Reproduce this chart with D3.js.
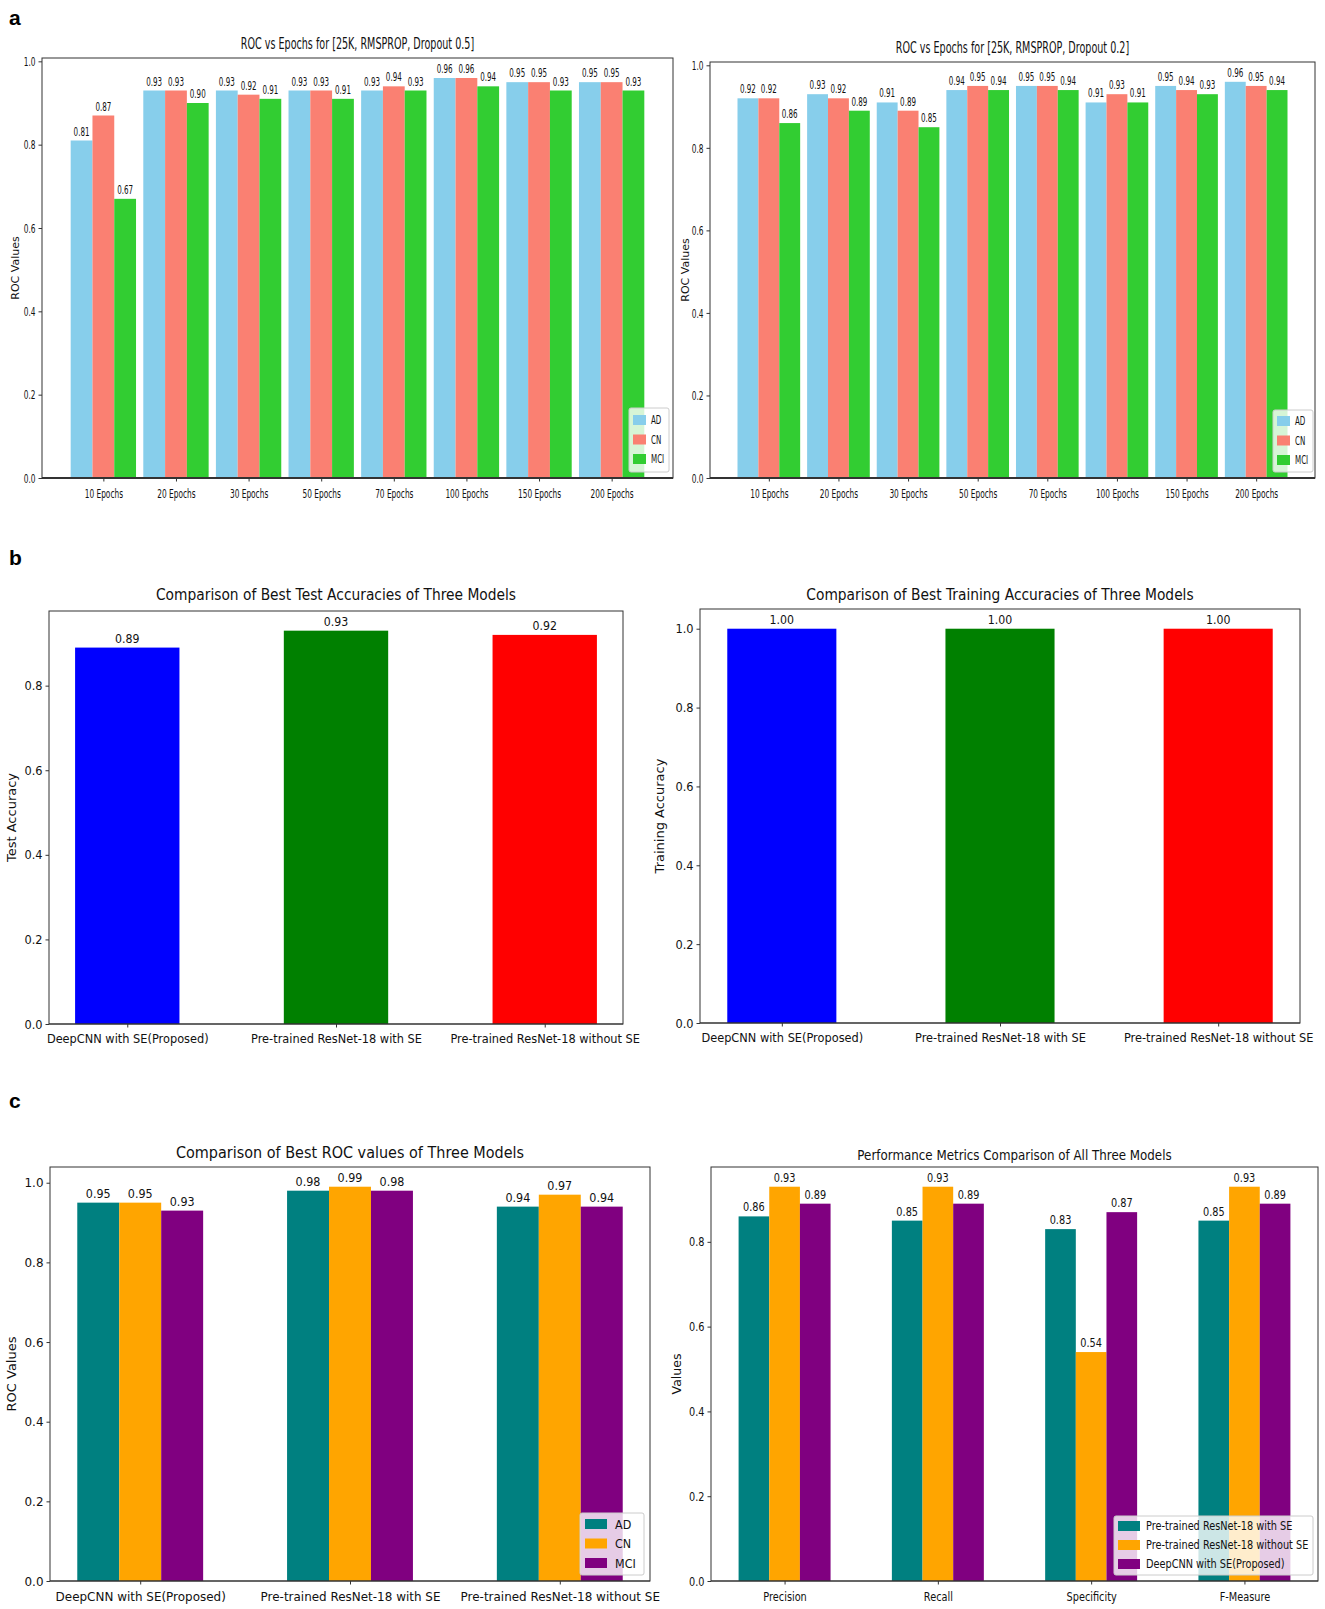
<!DOCTYPE html>
<html>
<head>
<meta charset="utf-8">
<script src="https://cdn.jsdelivr.net/npm/d3@7"></script>
<style>
  html, body { margin: 0; padding: 0; background: #fff; }
  svg { display: block; }
</style>
</head>
<body>
<svg id="fig" width="1325" height="1609"></svg>
<script>
// ---------------- DATA ----------------
const epochs = ["10 Epochs", "20 Epochs", "30 Epochs", "50 Epochs", "70 Epochs", "100 Epochs", "150 Epochs", "200 Epochs"];
const classNames = ["AD", "CN", "MCI"];

const d05_AD  = [0.81, 0.93, 0.93, 0.93, 0.93, 0.96, 0.95, 0.95];
const d05_CN  = [0.87, 0.93, 0.92, 0.93, 0.94, 0.96, 0.95, 0.95];
const d05_MCI = [0.67, 0.90, 0.91, 0.91, 0.93, 0.94, 0.93, 0.93];

const d02_AD  = [0.92, 0.93, 0.91, 0.94, 0.95, 0.91, 0.95, 0.96];
const d02_CN  = [0.92, 0.92, 0.89, 0.95, 0.95, 0.93, 0.94, 0.95];
const d02_MCI = [0.86, 0.89, 0.85, 0.94, 0.94, 0.91, 0.93, 0.94];

const models = ["DeepCNN with SE(Proposed)", "Pre-trained ResNet-18 with SE", "Pre-trained ResNet-18 without SE"];
const testAcc  = [0.89, 0.93, 0.92];
const trainAcc = [1.00, 1.00, 1.00];

const roc_AD  = [0.95, 0.98, 0.94];
const roc_CN  = [0.95, 0.99, 0.97];
const roc_MCI = [0.93, 0.98, 0.94];

const metrics = ["Precision", "Recall", "Specificity", "F-Measure"];
const metricModels = ["Pre-trained ResNet-18 with SE", "Pre-trained ResNet-18 without SE", "DeepCNN with SE(Proposed)"];
const m_resSE   = [0.86, 0.85, 0.83, 0.85];
const m_resNoSE = [0.93, 0.93, 0.54, 0.93];
const m_deepSE  = [0.89, 0.89, 0.87, 0.89];

const yTicks = [0.0, 0.2, 0.4, 0.6, 0.8, 1.0];

// ---------------- DRAW ----------------
const FONT = "DejaVu Sans, Liberation Sans, sans-serif";
const svg = d3.select("#fig");

function txt(g, x, y, s, o) {
  const t = g.append("text")
    .attr("transform", `translate(${x},${y})` + (o.rot ? ` rotate(${o.rot})` : "") + ` scale(${o.sx || 1},1)`)
    .attr("font-family", o.family || FONT)
    .attr("font-size", o.size)
    .attr("font-weight", o.weight || "normal")
    .attr("text-anchor", o.anchor || "middle")
    .attr("fill", o.fill || "#111")
    .text(s);
  if (o.dy) t.attr("dy", o.dy);
  return t;
}

function chart(o) {
  const g = svg.append("g");
  const nS = o.series.length, nC = o.cats.length;
  const offs = o.series.map((_, j) => (j - (nS - 1) / 2) * o.barW);
  const lo = offs[0] - o.barW / 2, hi = (nC - 1) + offs[nS - 1] + o.barW / 2;
  const m = (hi - lo) * 0.05;
  const x = d3.scaleLinear().domain([lo - m, hi + m]).range([o.box.l, o.box.r]);
  const ymax = d3.max(o.series.flat()) * 1.05;
  const y = d3.scaleLinear().domain([0, ymax]).range([o.box.b, o.box.t]);
  const colorOf = (j, i) => o.perCat ? o.colors[i] : o.colors[j];

  // bars
  o.series.forEach((vals, j) => {
    g.append("g").selectAll("rect").data(vals).join("rect")
      .attr("x", (d, i) => x(i + offs[j] - o.barW / 2))
      .attr("width", (d, i) => x(i + offs[j] + o.barW / 2) - x(i + offs[j] - o.barW / 2))
      .attr("y", d => y(d))
      .attr("height", d => y(0) - y(d))
      .attr("fill", (d, i) => colorOf(j, i));
  });
  // value labels
  o.series.forEach((vals, j) => {
    vals.forEach((d, i) => {
      txt(g, x(i + offs[j]), y(d) - o.valGap, d3.format(".2f")(d), {size: o.valSize, sx: o.valSx});
    });
  });

  // frame
  g.append("rect")
    .attr("x", o.box.l).attr("y", o.box.t)
    .attr("width", o.box.r - o.box.l).attr("height", o.box.b - o.box.t)
    .attr("fill", "none").attr("stroke", "#333").attr("stroke-width", 1);
  g.append("line").attr("x1", o.box.l).attr("x2", o.box.r).attr("y1", o.box.b).attr("y2", o.box.b)
    .attr("stroke", "#333").attr("stroke-width", o.bottomW || 1.2);

  // y axis
  const ya = g.append("g").attr("transform", `translate(${o.box.l},0)`)
    .call(d3.axisLeft(y).tickValues(yTicks.filter(v => v <= ymax + 1e-9)).tickFormat(d3.format(".1f")).tickSize(3.5).tickPadding(3).tickSizeOuter(0));
  ya.select(".domain").remove();
  ya.selectAll(".tick line").attr("stroke", "#333");
  ya.selectAll(".tick text")
    .attr("x", null).attr("dy", "0.32em")
    .attr("transform", `translate(-6.5,0) scale(${o.tickSx},1)`)
    .attr("font-family", FONT).attr("font-size", o.tickSize).attr("fill", "#111");

  // x axis
  const xa = g.append("g").attr("transform", `translate(0,${o.box.b})`)
    .call(d3.axisBottom(x).tickValues(d3.range(nC)).tickFormat(i => o.cats[i]).tickSize(3.5).tickPadding(3).tickSizeOuter(0));
  xa.select(".domain").remove();
  xa.selectAll(".tick line").attr("stroke", "#333");
  xa.selectAll(".tick text")
    .attr("y", null).attr("dy", null)
    .attr("transform", `translate(0,${o.xLabDy}) scale(${o.tickSx},1)`)
    .attr("font-family", FONT).attr("font-size", o.tickSize).attr("fill", "#111");

  // title
  txt(g, (o.box.l + o.box.r) / 2, o.titleY, o.title, {size: o.titleSize, sx: o.titleSx});
  // y label
  txt(g, o.ylabelX, (o.box.t + o.box.b) / 2, o.ylabel, {size: o.ylabelSize, sx: o.ylabelSx, rot: -90});

  // legend
  if (o.legend) {
    const L = o.legend;
    g.append("rect").attr("x", L.x).attr("y", L.y).attr("width", L.w).attr("height", L.h)
      .attr("rx", 2).attr("fill", "#fff").attr("fill-opacity", 0.8).attr("stroke", "#ccc");
    L.names.forEach((nm, j) => {
      const cy = L.y + L.first + j * L.row;
      g.append("rect").attr("x", L.x + L.px).attr("y", cy - L.ph / 2).attr("width", L.pw).attr("height", L.ph)
        .attr("fill", o.colors[j]);
      txt(g, L.x + L.px + L.pw + L.gap, cy, nm, {size: L.size, sx: L.sx, anchor: "start", dy: "0.35em"});
    });
  }
  return g;
}

// panel labels
const PL = {size: 21, weight: "bold", anchor: "start", family: "Liberation Sans, Arial, sans-serif", fill: "#000"};
txt(svg, 9, 25, "a", PL);
txt(svg, 9, 565, "b", PL);
txt(svg, 9, 1108, "c", PL);

const colA = ["#87CEEB", "#FA8072", "#32CD32"];
const colB = ["#0000FF", "#008000", "#FF0000"];
const colC = ["#008080", "#FFA500", "#800080"];

// ---- a left
chart({
  box: {l: 42, t: 58, r: 673, b: 478}, cats: epochs,
  series: [d05_AD, d05_CN, d05_MCI], colors: colA, barW: 0.3,
  tickSize: 13, tickSx: 0.57, valSize: 13, valSx: 0.55, valGap: 5, xLabDy: 20, bottomW: 1.8,
  title: "ROC vs Epochs for [25K, RMSPROP, Dropout 0.5]", titleY: 49, titleSize: 15, titleSx: 0.64,
  ylabel: "ROC Values", ylabelX: 19, ylabelSize: 11, ylabelSx: 1.0,
  legend: {x: 629, y: 408, w: 40, h: 64, px: 4, pw: 13, ph: 10, gap: 5, first: 12, row: 19.5, size: 12.5, sx: 0.57, names: classNames}
});
// ---- a right
chart({
  box: {l: 710, t: 62, r: 1315, b: 478}, cats: epochs,
  series: [d02_AD, d02_CN, d02_MCI], colors: colA, barW: 0.3,
  tickSize: 13, tickSx: 0.57, valSize: 13, valSx: 0.55, valGap: 5, xLabDy: 20, bottomW: 1.8,
  title: "ROC vs Epochs for [25K, RMSPROP, Dropout 0.2]", titleY: 53, titleSize: 15, titleSx: 0.64,
  ylabel: "ROC Values", ylabelX: 689, ylabelSize: 11, ylabelSx: 1.0,
  legend: {x: 1273, y: 410, w: 40, h: 62, px: 4, pw: 13, ph: 10, gap: 5, first: 11, row: 19.5, size: 12.5, sx: 0.57, names: classNames}
});

// ---- b left
chart({
  box: {l: 49, t: 611, r: 623, b: 1024}, cats: models,
  series: [testAcc], colors: colB, perCat: true, barW: 0.5,
  tickSize: 12.5, tickSx: 0.91, valSize: 12.5, valSx: 0.88, valGap: 5, xLabDy: 19,
  title: "Comparison of Best Test Accuracies of Three Models", titleY: 600, titleSize: 15, titleSx: 0.92,
  ylabel: "Test Accuracy", ylabelX: 16, ylabelSize: 13, ylabelSx: 1.0
});
// ---- b right
chart({
  box: {l: 700, t: 609, r: 1300, b: 1023}, cats: models,
  series: [trainAcc], colors: colB, perCat: true, barW: 0.5,
  tickSize: 12.5, tickSx: 0.91, valSize: 12.5, valSx: 0.88, valGap: 5, xLabDy: 19,
  title: "Comparison of Best Training Accuracies of Three Models", titleY: 600, titleSize: 15, titleSx: 0.92,
  ylabel: "Training Accuracy", ylabelX: 664, ylabelSize: 13, ylabelSx: 1.0
});

// ---- c left
chart({
  box: {l: 50, t: 1167, r: 650, b: 1581}, cats: models,
  series: [roc_AD, roc_CN, roc_MCI], colors: colC, barW: 0.2,
  tickSize: 13, tickSx: 0.92, valSize: 13, valSx: 0.86, valGap: 5, xLabDy: 20,
  title: "Comparison of Best ROC values of Three Models", titleY: 1158, titleSize: 15.5, titleSx: 0.93,
  ylabel: "ROC Values", ylabelX: 16, ylabelSize: 13, ylabelSx: 1.0,
  legend: {x: 580, y: 1513, w: 64, h: 62, px: 5, pw: 22, ph: 10, gap: 8, first: 11, row: 19.5, size: 13, sx: 0.86, names: classNames}
});
// ---- c right
chart({
  box: {l: 711, t: 1167, r: 1318, b: 1581}, cats: metrics,
  series: [m_resSE, m_resNoSE, m_deepSE], colors: colC, barW: 0.2,
  tickSize: 12.5, tickSx: 0.78, valSize: 12.5, valSx: 0.78, valGap: 5, xLabDy: 20,
  title: "Performance Metrics Comparison of All Three Models", titleY: 1160, titleSize: 14.5, titleSx: 0.82,
  ylabel: "Values", ylabelX: 681, ylabelSize: 12.5, ylabelSx: 1.0,
  legend: {x: 1114, y: 1516, w: 199, h: 59, px: 4, pw: 22, ph: 10, gap: 6, first: 10, row: 19, size: 12.5, sx: 0.78, names: metricModels}
});
</script>
</body>
</html>
